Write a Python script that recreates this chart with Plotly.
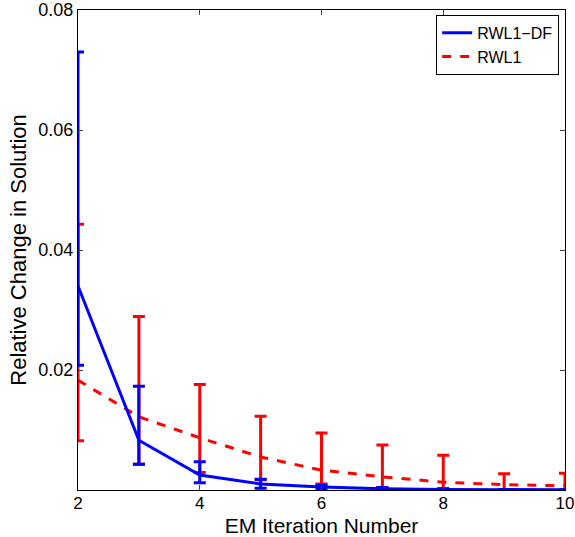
import plotly.graph_objects as go

iters = [2, 3, 4, 5, 6, 7, 8, 9, 10]

df_mean = [0.034, 0.0083, 0.0025, 0.0010, 0.0005, 0.0002, 0.0001, 0.00005, 0.00003]
df_upper = [0.073, 0.0173, 0.0047, 0.0018, 0.0008, 0.0004, 0.0002, 0.0001, 0.00006]
df_lower = [0.0208, 0.0043, 0.0012, 0.0003, 0.0002, 0.0001, 0.00005, 0.00002, 0.00001]

rw_mean = [0.0183, 0.0122, 0.0087, 0.0055, 0.0033, 0.0022, 0.0013, 0.0009, 0.0007]
rw_upper = [0.0443, 0.0289, 0.0176, 0.0123, 0.0095, 0.0075, 0.0058, 0.0027, 0.0028]
rw_lower = [0.0082, 0.0043, 0.0029, 0.0017, 0.0010, 0.0004, 0.0002, 0.0001, 0.0000]

yticks = [0.02, 0.04, 0.06, 0.08]
xticks = [2, 4, 6, 8, 10]

def err(mean, up, lo):
    return dict(type="data", symmetric=False,
                array=[u - m for u, m in zip(up, mean)],
                arrayminus=[m - l for m, l in zip(mean, lo)])

fig = go.Figure()
fig.add_trace(go.Scatter(
    x=iters, y=rw_mean, mode="lines", name="RWL1",
    line=dict(color="#ff0000", width=3, dash="dash"),
    error_y=dict(**err(rw_mean, rw_upper, rw_lower), color="#ff0000", thickness=3, width=6),
    legendrank=2,
))
fig.add_trace(go.Scatter(
    x=iters, y=df_mean, mode="lines", name="RWL1\u2212DF",
    line=dict(color="#0000ff", width=3),
    error_y=dict(**err(df_mean, df_upper, df_lower), color="#0000ff", thickness=3, width=6),
    legendrank=1,
))

font = "Liberation Sans, Arial, Helvetica, sans-serif"
fig.update_layout(
    template="none",
    width=575, height=537,
    margin=dict(l=78, r=10, t=10, b=47, autoexpand=False),
    paper_bgcolor="white", plot_bgcolor="white",
    font=dict(family=font, color="black", size=18),
    showlegend=True,
    legend=dict(x=0.988, y=0.99, xanchor="right", yanchor="top",
                bgcolor="white", bordercolor="black", borderwidth=1,
                font=dict(size=16), tracegroupgap=0, itemwidth=30),
    xaxis=dict(range=[2, 10], tickvals=xticks, ticks="inside", ticklen=5,
               showline=True, linecolor="black", linewidth=1, mirror="ticks",
               showgrid=False, zeroline=False, automargin=False,
               ticklabeloverflow="allow", ticklabelstandoff=-2,
               title=dict(text="EM Iteration Number", font=dict(size=21), standoff=6),
               tickfont=dict(size=17)),
    yaxis=dict(range=[0, 0.08], tickvals=yticks, ticktext=["0.02", "0.04", "0.06", "0.08"],
               ticks="inside", ticklen=5,
               showline=True, linecolor="black", linewidth=1, mirror="ticks",
               showgrid=False, zeroline=False, automargin=False,
               ticklabeloverflow="allow",
               title=dict(text="Relative Change in Solution", font=dict(size=22), standoff=5),
               tickfont=dict(size=18)),
)

fig.write_html("out.html", config={"displayModeBar": False},
               post_script="document.body.style.margin='0px';")
